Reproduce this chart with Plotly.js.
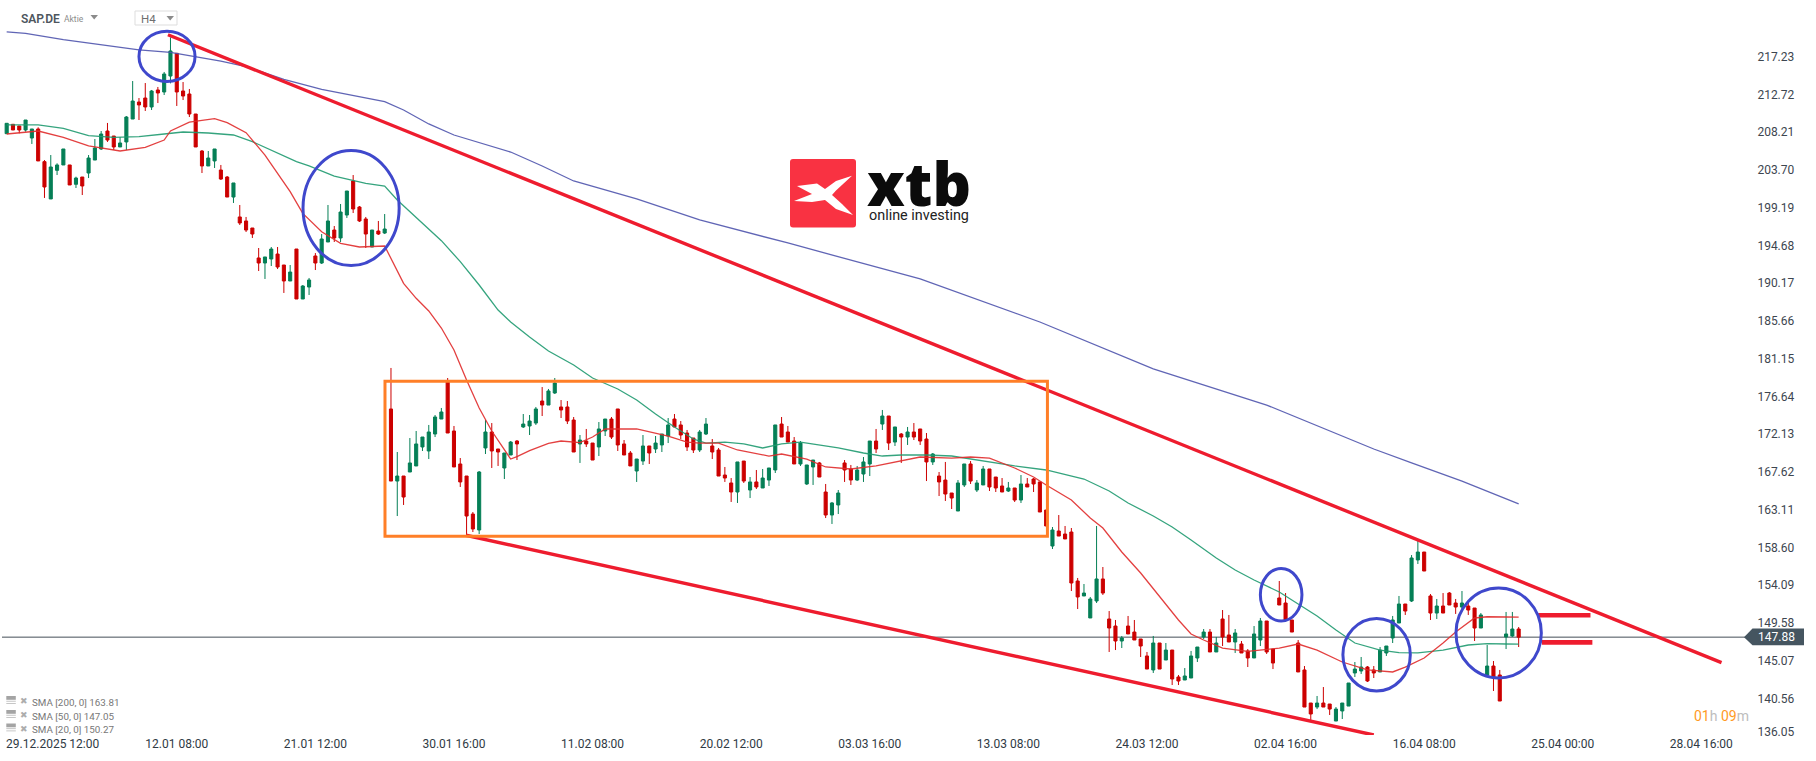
<!DOCTYPE html>
<html><head><meta charset="utf-8">
<script src="https://cdn.plot.ly/plotly-3.0.1.min.js"></script>
<style>html,body{margin:0;padding:0;background:#fff;overflow:hidden}#c{width:1816px;height:761px}</style>
</head><body><div id="c"></div>
<script>
const opens=[208.03,209.15,208.95,208.47,207.51,208.59,204.69,200.23,203.65,204.29,204.29,201.98,202.85,203.33,204.88,206.20,208.35,207.75,206.44,207.04,
209.78,211.81,212.29,211.22,213.25,213.01,214.92,217.63,213.13,212.77,210.38,205.96,204.17,204.77,203.69,202.85,200.46,198.08,197.60,196.76,
193.18,192.58,193.06,193.65,192.34,190.43,194.25,188.28,189.71,193.42,192.58,195.09,196.52,195.57,198.31,202.38,199.27,197.84,194.49,196.40,
196.16,175.14,166.53,167.13,167.61,168.33,170.60,170.12,172.15,173.94,178.36,172.51,168.57,167.13,162.59,160.68,170.48,172.39,170.36,168.09,
169.64,171.31,172.99,173.11,173.46,176.09,175.61,177.05,175.38,175.38,173.82,170.96,171.31,171.07,170.60,172.51,173.94,175.14,170.96,169.88,
167.73,168.92,170.72,170.36,170.84,171.91,173.94,173.23,172.27,171.67,170.24,172.15,170.72,170.24,167.25,166.30,165.22,168.92,165.46,166.42,
165.70,166.65,167.85,173.34,172.39,171.31,168.57,166.18,168.21,168.69,165.22,162.47,163.67,168.69,167.97,166.65,167.37,168.57,171.31,173.34,
174.30,171.19,172.15,171.79,172.39,172.75,171.55,168.81,167.13,166.65,165.10,162.95,166.06,168.57,165.46,166.06,167.97,167.01,165.94,165.34,
165.70,164.26,166.18,166.77,166.42,163.07,158.77,160.56,160.20,160.44,154.59,152.80,150.17,152.20,154.83,150.05,149.21,147.42,149.21,148.49,
147.66,145.63,143.96,147.18,145.15,146.34,143.12,142.76,143.00,145.39,147.90,148.49,146.11,150.05,148.14,147.30,147.06,146.23,145.39,147.54,
149.81,146.46,152.56,151.96,149.93,147.18,143.96,140.01,139.53,140.01,139.89,137.86,139.06,139.65,143.60,143.84,144.31,143.96,143.72,145.99,
147.78,149.57,151.84,152.20,157.10,158.05,152.80,150.76,151.60,153.15,151.96,151.48,151.60,151.36,148.97,143.36,144.43,143.36,147.90,148.02,148.85];
const highs=[209.27,209.15,208.95,209.66,208.59,208.79,204.88,205.48,204.49,206.20,204.29,202.89,202.85,205.48,207.39,208.35,209.31,207.75,207.63,210.14,
214.32,212.29,214.08,213.25,213.61,215.40,219.54,217.63,214.20,213.37,210.38,206.08,205.96,206.20,204.29,202.97,202.14,199.51,198.08,196.76,
194.37,193.30,194.49,194.49,192.34,192.34,194.25,189.95,190.79,193.77,196.04,199.51,197.00,199.63,201.18,203.09,199.39,198.08,196.52,197.60,
198.43,180.04,170.00,167.13,171.67,172.51,171.79,173.23,174.42,175.26,178.84,173.11,169.28,167.13,162.83,167.73,173.82,173.46,170.36,169.88,
171.31,171.43,174.54,174.42,175.38,177.76,177.53,178.84,176.21,176.09,174.18,172.03,172.75,171.07,173.58,173.94,174.18,175.14,171.43,170.12,
169.16,172.03,170.72,171.91,172.15,174.06,174.54,173.70,172.63,171.67,172.63,174.06,171.55,170.48,168.21,166.89,168.81,168.92,167.01,167.85,
167.97,168.09,173.23,174.18,173.11,171.79,171.31,168.45,169.04,168.81,166.18,164.03,165.46,169.04,168.45,168.33,169.40,171.31,172.75,175.02,
174.30,172.99,172.27,172.99,173.46,172.75,172.27,169.88,167.61,168.81,165.10,166.65,168.57,168.92,166.65,168.33,167.97,167.01,166.89,166.42,
165.70,167.25,166.89,166.89,166.42,163.07,161.04,162.47,161.16,160.92,154.95,154.23,152.68,161.16,156.26,151.00,149.93,148.02,150.41,149.93,
147.66,146.11,148.02,147.18,147.18,146.34,143.36,144.19,146.23,146.70,148.85,148.85,147.90,151.12,150.53,148.85,147.42,146.46,149.21,150.17,
149.81,146.46,154.59,153.15,149.93,147.54,144.43,140.01,140.85,141.92,139.89,139.53,140.01,142.40,144.91,145.51,144.43,144.43,146.70,146.82,
150.41,152.80,151.84,157.69,159.49,158.05,153.03,152.44,153.15,153.27,152.44,153.39,151.96,151.36,150.76,146.94,145.03,143.96,150.89,150.89,149.09];
const lows=[208.03,208.47,208.07,208.27,206.80,204.77,200.35,200.23,203.09,204.29,201.90,201.54,200.70,202.73,204.88,206.08,207.04,206.08,206.44,206.08,
209.78,209.66,210.74,210.86,211.69,212.65,214.04,211.34,212.05,210.02,206.44,203.33,204.17,203.93,202.50,200.46,199.75,197.12,196.28,195.57,
191.62,190.67,192.22,191.86,189.00,190.43,188.28,188.28,188.76,191.74,192.46,195.09,195.09,195.09,197.96,198.55,197.48,194.37,194.49,195.93,
196.04,166.53,162.35,163.67,167.61,168.33,170.12,169.16,171.79,173.94,172.27,168.21,165.82,160.08,160.44,160.20,169.76,168.09,168.33,166.77,
169.64,169.04,172.87,172.03,173.23,174.30,175.61,176.93,174.06,173.34,170.00,168.69,170.60,169.04,169.52,171.91,171.55,170.12,169.64,168.33,
166.42,168.45,168.57,169.88,170.00,171.07,172.99,171.55,170.12,169.88,170.00,172.03,169.16,167.13,166.42,164.03,163.91,166.30,164.50,165.58,
165.70,165.94,167.49,171.79,171.19,168.57,168.33,166.06,166.06,167.01,162.11,161.40,162.59,166.42,166.06,166.53,166.42,167.13,169.88,172.63,
170.24,170.72,168.69,170.84,171.43,170.84,166.53,168.45,164.74,164.15,163.19,162.95,165.82,166.18,165.22,166.06,165.34,165.22,165.22,165.22,
164.03,163.91,165.82,165.22,162.83,161.16,158.41,159.96,159.61,153.39,151.24,152.80,150.17,151.96,152.92,146.11,146.34,146.58,148.26,147.54,
145.51,144.07,143.60,144.07,145.15,142.16,142.16,142.76,143.00,144.91,147.66,146.11,146.11,146.82,147.30,145.99,145.99,144.31,145.39,146.82,
145.87,144.07,151.72,149.93,148.49,143.72,139.53,137.74,139.29,139.53,138.58,137.86,138.10,139.65,143.12,143.48,142.52,143.00,143.72,145.63,
147.18,149.57,150.53,152.08,156.62,155.78,149.93,150.05,150.76,151.72,150.65,151.12,150.53,147.42,148.97,143.36,141.45,140.25,146.46,147.90,146.70];
const closes=[209.27,208.47,208.47,209.66,208.59,204.77,201.66,204.05,204.29,206.20,201.90,202.73,201.78,205.12,206.32,207.99,207.27,206.44,206.92,210.02,
211.93,211.46,211.22,213.13,212.89,215.16,217.91,213.01,212.53,210.38,206.44,204.17,205.12,206.20,202.61,200.46,202.14,197.36,196.52,196.04,
192.58,193.30,194.25,192.10,190.43,191.50,188.28,189.83,190.55,192.58,195.45,197.60,195.57,198.67,201.18,199.03,197.60,196.04,196.52,196.04,
196.64,166.53,167.13,164.62,168.69,170.96,171.79,172.39,174.18,174.78,172.27,168.21,166.42,162.35,160.80,167.61,172.39,170.12,170.00,169.88,
171.19,170.96,173.34,173.70,175.14,175.61,177.29,178.24,175.02,173.70,170.00,171.43,170.96,169.04,172.75,173.94,171.79,170.84,169.64,168.33,
169.16,170.72,169.88,171.07,172.15,173.23,172.99,172.03,170.60,170.24,172.39,173.34,170.00,167.13,166.89,165.22,168.81,166.53,166.42,165.82,
166.89,168.09,173.23,171.79,171.19,168.57,171.07,168.45,169.04,167.01,162.47,163.91,165.10,167.85,166.65,167.85,168.81,171.31,170.36,174.30,
171.07,172.99,171.79,172.39,171.79,171.31,168.81,169.76,166.42,164.98,164.50,166.30,168.57,166.53,166.30,167.97,165.82,165.70,165.22,165.70,
164.26,166.18,165.82,166.18,162.83,161.16,160.68,159.96,159.61,154.35,152.68,153.15,152.44,154.83,153.15,148.97,147.42,147.78,148.26,147.54,
146.82,144.07,147.18,144.07,146.34,142.88,142.64,143.24,145.63,146.70,148.49,146.11,147.18,147.90,147.30,148.38,145.99,145.39,148.26,149.81,
146.11,144.79,151.72,149.93,148.49,143.72,139.53,138.70,140.01,139.53,139.29,139.29,140.01,142.40,144.07,144.31,142.64,143.60,146.34,146.82,
149.93,151.84,151.00,157.34,158.05,155.78,150.76,151.60,150.76,151.72,151.48,151.96,151.12,148.97,150.53,144.43,143.12,140.25,148.26,148.85,147.88];
const barIndex=opens.map((_,i)=>i);

const sma20Idx=[0,5,9,13,18,22,25,26,29,33,35,38,41,45,47,50,53,56,60,63,65,67,69,71,73,75,77,80,81,83,86,88,91,93,95,97,100,105,108,110,113,116,121,123,127,130,134,138,142,145,150,153,156,160,163,165,169,172,174,177,180,183,186,188,190,193,197,202,205,208,212,216,220,222,225,228,230,233,235,238,240];
const sma20Val=[207.99,208.35,207.59,206.56,205.96,206.40,207.27,208.35,209.42,209.82,209.34,208.15,205.48,201.10,198.51,196.32,194.93,194.49,194.61,190.15,188.36,186.85,184.81,182.19,178.60,175.26,172.51,169.16,169.44,170.16,171.02,171.31,171.11,171.79,172.75,172.75,172.75,171.91,171.19,171.07,171.07,170.24,169.52,169.76,169.16,168.21,167.97,168.33,168.96,169.40,169.28,169.40,169.28,168.09,167.01,166.06,164.27,162.11,160.92,158.05,155.54,152.68,149.93,148.26,147.54,146.58,146.17,146.58,147.06,146.34,144.91,143.96,143.72,144.31,145.39,147.18,148.50,150.17,150.32,150.29,150.27];
const sma50Idx=[0,5,9,13,17,21,25,28,32,36,39,42,46,48,52,57,60,62,66,69,72,75,78,80,83,86,90,93,97,100,103,106,109,111,114,117,120,123,126,129,132,136,139,142,146,150,155,160,165,171,175,178,182,185,188,192,195,198,202,205,208,211,214,218,221,224,228,232,235,238,240];
const sma50Val=[209.07,209.07,208.67,207.79,207.59,207.67,207.99,208.23,208.11,207.87,207.08,206.08,204.69,204.17,202.97,202.10,201.78,200.11,197.32,195.25,192.74,189.95,186.96,185.53,183.74,182.07,180.39,178.84,177.53,176.21,174.54,172.99,171.55,171.07,171.19,170.96,170.48,170.96,171.19,170.84,170.48,169.88,169.52,169.64,169.64,169.52,168.92,168.33,167.85,166.77,165.34,163.91,162.35,161.04,159.49,157.34,155.90,154.71,153.27,151.84,150.41,148.73,147.18,146.34,146.02,145.99,146.34,146.94,147.10,147.06,147.05];
const sma200Idx=[0,3,9,15,21,26,30,34,38,44,50,56,60,63,67,71,80,85,90,100,110,124,145,164,182,200,217,223,231,240];
const sma200Val=[220.18,220.02,219.26,218.66,218.03,217.75,217.23,216.71,216.04,214.52,213.33,212.45,211.85,210.86,209.19,207.87,205.84,204.17,202.38,200.23,197.72,194.97,190.67,185.53,179.92,175.61,170.36,168.69,166.53,163.81];

const priceTicks=[217.23,212.72,208.21,203.70,199.19,194.68,190.17,185.66,181.15,176.64,172.13,167.62,163.11,158.60,154.09,149.58,145.07,140.56,136.53];
const priceLabels=["217.23","212.72","208.21","203.70","199.19","194.68","190.17","185.66","181.15","176.64","172.13","167.62","163.11","158.60","154.09","149.58","145.07","140.56","136.05"];
const timeTicks=[7.3,27,49,71,93,115,137,159,181,203,225,247,269];
const timeLabels=["29.12.2025 12:00","12.01 08:00","21.01 12:00","30.01 16:00","11.02 08:00","20.02 12:00","03.03 16:00","13.03 08:00","24.03 12:00","02.04 16:00","16.04 08:00","25.04 00:00","28.04 16:00"];
const lastPrice=147.88;
const smaLegend=["SMA [200, 0] 163.81","SMA [50, 0] 147.05","SMA [20, 0] 150.27"];

const upperTrendX=[25.6,272.2], upperTrendY=[219.85,144.83];
const lowerTrendX=[72.9,217], lowerTrendY=[160.05,136.19];
const boxX=[60.05,165.2], boxY=[159.93,178.45];
const circlesX=[[21,29.9],[47.04,62.3],[199,205.6],[212.1,222.8],[230.05,243.6]];
const circlesY=[[214.26,220.27],[192.28,206.02],[149.81,156.08],[141.45,150.11],[143,153.75]];
const levelsX=[[243.1,251.4],[243.7,251.7]], levelsY=[150.49,147.26];

const W=1750,H=735;
const px=x=>x/W, py=y=>1-y/H;
const RED='#ee1c2e', BLUE='#3f48cc';
const line=(x0,x1,y0,y1,color,width,extra)=>Object.assign({type:'line',xref:'x',yref:'y',x0,x1,y0,y1,line:{color,width}},extra||{});
const poly=(pts,fill)=>({type:'path',xref:'paper',yref:'paper',path:'M'+pts.map(p=>px(p[0])+','+py(p[1])).join('L')+'Z',fillcolor:fill,line:{width:0}});
const rectPx=(x0,y0,x1,y1,fill)=>({type:'rect',xref:'paper',yref:'paper',x0:px(x0),x1:px(x1),y0:py(y0),y1:py(y1),fillcolor:fill,line:{width:0}});

const shapes=[
 {type:'line',xref:'paper',yref:'y',x0:px(2),x1:1,y0:lastPrice,y1:lastPrice,line:{color:'#454f58',width:1}, layer:'below'},
 line(upperTrendX[0],upperTrendX[1],upperTrendY[0],upperTrendY[1],RED,3.4),
 line(lowerTrendX[0],lowerTrendX[1],lowerTrendY[0],lowerTrendY[1],RED,3.4),
 {type:'rect',xref:'x',yref:'y',x0:boxX[0],x1:boxX[1],y0:boxY[0],y1:boxY[1],line:{color:'#ff7f27',width:3}},
 line(levelsX[0][0],levelsX[0][1],levelsY[0],levelsY[0],RED,4.6),
 line(levelsX[1][0],levelsX[1][1],levelsY[1],levelsY[1],RED,4.6),
 {type:'path',xref:'paper',yref:'y',path:`M${px(1744)},${lastPrice} L${px(1752.5)},${lastPrice+1.03} L${px(1804)},${lastPrice+1.03} L${px(1804)},${lastPrice-0.97} L${px(1752.5)},${lastPrice-0.97} Z`,fillcolor:'#455560',line:{width:0}},
 // logo
 {type:'path',xref:'paper',yref:'paper',path:`M${px(793)},${py(159)}L${px(853)},${py(159)}Q${px(856)},${py(159)} ${px(856)},${py(162)}L${px(856)},${py(224.5)}Q${px(856)},${py(227.5)} ${px(853)},${py(227.5)}L${px(793)},${py(227.5)}Q${px(790)},${py(227.5)} ${px(790)},${py(224.5)}L${px(790)},${py(162)}Q${px(790)},${py(159)} ${px(793)},${py(159)}Z`,fillcolor:'#f93242',line:{width:0}},
 poly([[797,186],[817,183.5],[825,189],[836,181],[852,175.7],[836,190.5],[832,195],[842,204],[853,215],[836,209],[825,200],[812,202],[794,201],[812,194]],'#ffffff'),
 // toolbar
 poly([[90.5,15],[98,15],[94.2,19.5]],'#8b8b8b'),
 {type:'rect',xref:'paper',yref:'paper',x0:px(135),x1:px(177),y0:py(11),y1:py(25),line:{color:'#dddddd',width:1},fillcolor:'#ffffff'},
 poly([[166.5,16],[174,16],[170.2,20.5]],'#8b8b8b')
];
circlesX.forEach((cx,i)=>shapes.push({type:'circle',xref:'x',yref:'y',x0:cx[0],x1:cx[1],y0:circlesY[i][0],y1:circlesY[i][1],line:{color:BLUE,width:3}}));

const legendY=[702,716,729.5];
legendY.forEach(y=>{
  shapes.push(rectPx(6.3,y-6,15.8,y-2.2,'#a4a4a4'));
  shapes.push(rectPx(6.3,y-1.2,15.8,y-0.4,'#b8b8b8'));
  shapes.push(rectPx(6.3,y+1,15.8,y+1.8,'#b8b8b8'));
});

const ann=(x,y,text,font,extra)=>Object.assign({xref:'paper',yref:'paper',x:px(x),y:py(y),text,showarrow:false,xanchor:'left',yanchor:'middle',borderpad:0,font},extra||{});
const annotations=[
 ann(20,18.5,'SAP.DE',{family:'Roboto',size:12,color:'#4e565e',weight:600}),
 ann(63,19,'Aktie',{family:'Roboto',size:8.5,color:'#8c8c8c'}),
 ann(140,19,'H4',{family:'Roboto',size:11.5,color:'#6f6f6f'}),
 ann(866,183,'xtb',{family:'Open Sans',size:60,color:'#0b0b0b',weight:800}),
 ann(868,216,'online investing',{family:'Roboto',size:14.4,color:'#222222'}),
 {xref:'paper',yref:'y',x:px(1756),y:lastPrice,text:'147.88',showarrow:false,xanchor:'left',yanchor:'middle',font:{family:'Roboto',size:12,color:'#ffffff'}},
 ann(1693,716,'<span style="color:#ff9a1f">01</span><span style="color:#bdbdbd">h</span> <span style="color:#ff9a1f">09</span><span style="color:#bdbdbd">m</span>',{family:'Roboto',size:14})
];
smaLegend.forEach((t,i)=>{
  annotations.push(ann(31,legendY[i],t,{family:'Roboto',size:9.8,color:'#777777'}));
  annotations.push(ann(18.5,legendY[i]-1,'✖',{family:'DejaVu Sans',size:9,color:'#adadad'}));
});

const smaTrace=(x,y,color,op)=>({type:'scatter',mode:'lines',x,y,line:{color,width:1.3},opacity:op,hoverinfo:'skip',showlegend:false});
const data=[
 smaTrace(sma200Idx,sma200Val,'#4f54ad',.9),
 {type:'candlestick',x:barIndex,open:opens,high:highs,low:lows,close:closes,whiskerwidth:0,
  increasing:{line:{color:'#057f56',width:1},fillcolor:'#057f56'},
  decreasing:{line:{color:'#cc0000',width:1},fillcolor:'#cc0000'},hoverinfo:'skip',showlegend:false},
 smaTrace(sma50Idx,sma50Val,'#1f9a70',.9),
 smaTrace(sma20Idx,sma20Val,'#e02b2b',.9)
];
const layout={width:1816,height:761,margin:{l:0,r:66,t:0,b:26,pad:0},paper_bgcolor:'#fff',plot_bgcolor:'#fff',showlegend:false,
 font:{family:'Roboto',size:12,color:'#3a434c'},
 xaxis:{type:'linear',range:[-1.059,276.72],rangeslider:{visible:false},showgrid:false,zeroline:false,showline:false,
   tickmode:'array',tickvals:timeTicks,ticktext:timeLabels,ticks:'',ticklen:0,tickangle:0,tickfont:{family:'Roboto',size:12,color:'#2f3a44'},automargin:false},
 yaxis:{side:'right',range:[136.19,224.0],showgrid:false,zeroline:false,showline:false,
   tickmode:'array',tickvals:priceTicks,ticktext:priceLabels,ticks:'outside',ticklen:4,tickcolor:'rgba(0,0,0,0)',tickfont:{family:'Roboto',size:12,color:'#3d4650'},automargin:false},
 shapes,annotations,hovermode:false,dragmode:false};
Plotly.newPlot('c',data,layout,{displayModeBar:false,staticPlot:true});
</script></body></html>
